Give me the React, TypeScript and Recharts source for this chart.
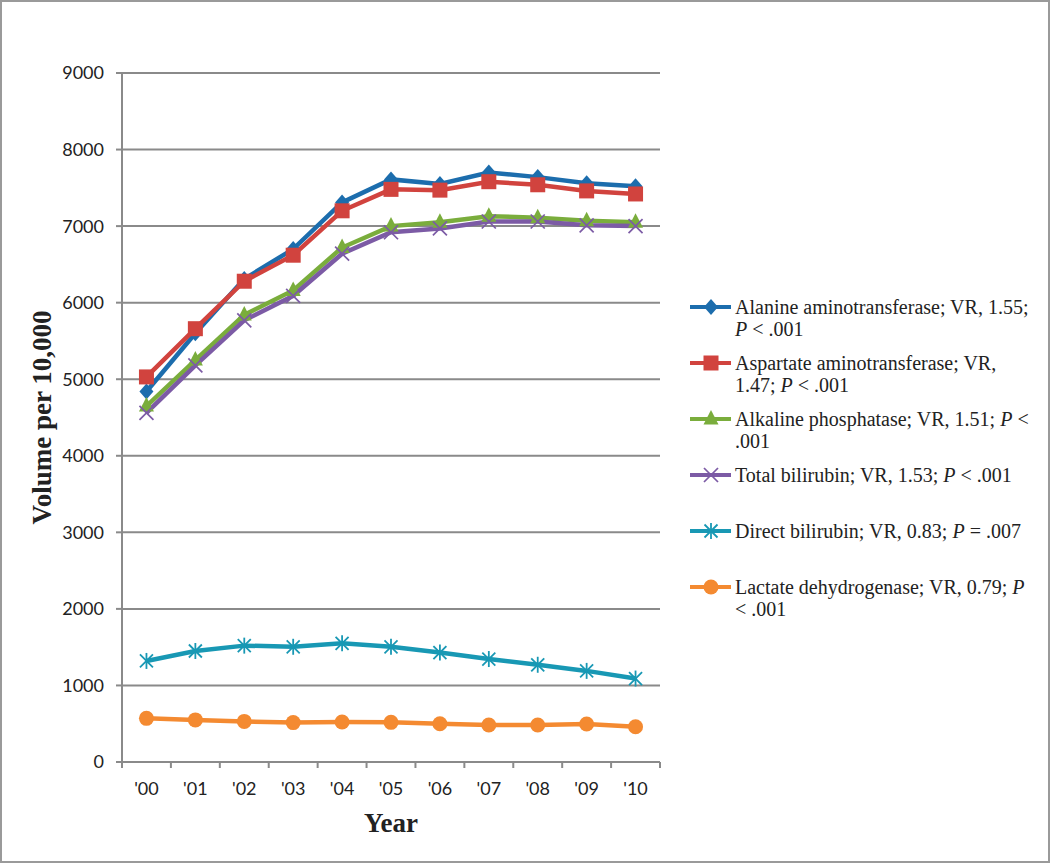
import React from "react";
import { LineChart, Line, XAxis, YAxis, CartesianGrid, Legend } from "recharts";

const years = ["'00", "'01", "'02", "'03", "'04", "'05", "'06", "'07", "'08", "'09", "'10"];
const yTicks = [0, 1000, 2000, 3000, 4000, 5000, 6000, 7000, 8000, 9000];

const alanine = [4840, 5600, 6310, 6700, 7310, 7610, 7550, 7700, 7640, 7560, 7520];
const aspartate = [5030, 5660, 6280, 6620, 7200, 7480, 7470, 7580, 7540, 7460, 7420];
const alkaline = [4650, 5250, 5840, 6160, 6720, 7000, 7050, 7130, 7110, 7070, 7050];
const totalBili = [4560, 5180, 5770, 6090, 6640, 6920, 6970, 7060, 7060, 7010, 7000];
const directBili = [1320, 1450, 1520, 1505, 1550, 1505, 1430, 1345, 1270, 1190, 1090];
const lactate = [570, 550, 530, 515, 522, 518, 500, 483, 483, 497, 460];

// label pieces: [text, italic?] per line
type Piece = [string, boolean];
const series: { key: string; color: string; shape: string; values: number[]; lines: Piece[][] }[] = [
  { key: "alt", color: "#1c6dad", shape: "diamond", values: alanine,
    lines: [[["Alanine aminotransferase; VR, 1.55;", false]], [["P", true], [" < .001", false]]] },
  { key: "ast", color: "#d1433e", shape: "square", values: aspartate,
    lines: [[["Aspartate aminotransferase; VR,", false]], [["1.47; ", false], ["P", true], [" < .001", false]]] },
  { key: "alp", color: "#7aad3c", shape: "triangle", values: alkaline,
    lines: [[["Alkaline phosphatase; VR, 1.51; ", false], ["P", true], [" <", false]], [[".001", false]]] },
  { key: "tbil", color: "#7c5ba5", shape: "x", values: totalBili,
    lines: [[["Total bilirubin; VR, 1.53; ", false], ["P", true], [" < .001", false]]] },
  { key: "dbil", color: "#1898b4", shape: "star", values: directBili,
    lines: [[["Direct bilirubin; VR, 0.83; ", false], ["P", true], [" = .007", false]]] },
  { key: "ldh", color: "#f48a31", shape: "circle", values: lactate,
    lines: [[["Lactate dehydrogenase; VR, 0.79; ", false], ["P", true]], [["< .001", false]]] },
];

const data = years.map((year, i) => {
  const row: Record<string, string | number> = { year };
  series.forEach((s) => { row[s.key] = s.values[i]; });
  return row;
});

const W = 1050;
const H = 863;
const legendW = 355;
const plotRight = 390; // space right of the plot area
// recharts adds the legend width to the right offset, so take it off the margin
const margin = { top: 73, right: plotRight - legendW, bottom: 0, left: 0 };
const yAxisW = 122;
const plotW = W - plotRight - yAxisW;
const step = plotW / years.length;
const gray = "#8a8a8a";

function Marker({ shape, cx, cy, color }: { shape: string; cx: number; cy: number; color: string }) {
  if (cx == null || cy == null) return null;
  switch (shape) {
    case "diamond":
      return <polygon points={`${cx},${cy - 8} ${cx + 7},${cy} ${cx},${cy + 8} ${cx - 7},${cy}`} fill={color} />;
    case "square":
      return <rect x={cx - 7.5} y={cy - 7.5} width={15} height={15} fill={color} />;
    case "triangle":
      return <polygon points={`${cx},${cy - 9} ${cx + 7.5},${cy + 5.5} ${cx - 7.5},${cy + 5.5}`} fill={color} />;
    case "x":
      return (
        <g stroke={color} strokeWidth={1.7}>
          <line x1={cx - 7} y1={cy - 7} x2={cx + 7} y2={cy + 7} />
          <line x1={cx - 7} y1={cy + 7} x2={cx + 7} y2={cy - 7} />
        </g>
      );
    case "star":
      return (
        <g stroke={color} strokeWidth={1.8}>
          <line x1={cx - 6.5} y1={cy - 6.5} x2={cx + 6.5} y2={cy + 6.5} />
          <line x1={cx - 6.5} y1={cy + 6.5} x2={cx + 6.5} y2={cy - 6.5} />
          <line x1={cx} y1={cy - 8} x2={cx} y2={cy + 8} />
        </g>
      );
    default:
      return <circle cx={cx} cy={cy} r={7.5} fill={color} />;
  }
}

const XTick = ({ x, y, payload, index }: any) => (
  <g>
    <line x1={x - step / 2} y1={y - 6} x2={x - step / 2} y2={y} stroke={gray} strokeWidth={2} />
    {index === years.length - 1 && (
      <line x1={x + step / 2} y1={y - 6} x2={x + step / 2} y2={y} stroke={gray} strokeWidth={2} />
    )}
    <text x={x} y={y + 27} textAnchor="middle" fontFamily="Lato, 'Open Sans', sans-serif" fontSize={18} fill="#222">
      {payload.value}
    </text>
  </g>
);

const LegendContent = () => (
  <div style={{ fontFamily: "'Liberation Serif', 'Times New Roman', serif", fontSize: 20, color: "#222" }}>
    {series.map((s) => (
      <div key={s.key} style={{ height: 56, position: "relative", paddingLeft: 45 }}>
        <svg width={44} height={22} style={{ position: "absolute", left: 0, top: 0 }}>
          <line x1={0} y1={11} x2={41} y2={11} stroke={s.color} strokeWidth={4} />
          <Marker shape={s.shape} cx={21} cy={11} color={s.color} />
        </svg>
        {s.lines.map((ln, i) => (
          <div key={i} style={{ lineHeight: "22px", whiteSpace: "nowrap" }}>
            {ln.map(([t, it], j) => (
              <span key={j} style={{ fontStyle: it ? "italic" : "normal", whiteSpace: "pre" }}>{t}</span>
            ))}
          </div>
        ))}
      </div>
    ))}
  </div>
);

export default function App() {
  return (
    <div style={{ position: "absolute", left: 0, top: 0, width: W, height: H, background: "#fff" }}>
      <LineChart width={W} height={H} data={data} margin={margin}>
        <CartesianGrid horizontal vertical={false} stroke={gray} strokeWidth={2} />
        <XAxis
          dataKey="year"
          height={H - 762}
          padding={{ left: step / 2, right: step / 2 }}
          axisLine={{ stroke: gray, strokeWidth: 2 }}
          tickLine={false}
          tickSize={6}
          tickMargin={0}
          tick={<XTick />}
          interval={0}
          label={{
            content: ({ viewBox }: any) => (
              <text
                x={viewBox.x + viewBox.width / 2}
                y={viewBox.y + 70}
                textAnchor="middle"
                fontFamily="'Liberation Serif', 'Times New Roman', serif"
                fontWeight="bold"
                fontSize={27}
                fill="#222"
              >
                Year
              </text>
            ),
          }}
        />
        <YAxis
          width={yAxisW}
          domain={[0, 9000]}
          ticks={yTicks}
          interval={0}
          axisLine={{ stroke: gray, strokeWidth: 2 }}
          tickLine={{ stroke: gray, strokeWidth: 2 }}
          tickSize={6}
          tickMargin={12}
          tick={{ fontFamily: "Lato, 'Open Sans', sans-serif", fontSize: 18, fill: "#222" }}
          label={{
            content: ({ viewBox }: any) => {
              const cx = viewBox.x + 42;
              const cy = viewBox.y + viewBox.height / 2;
              return (
                <text
                  x={cx}
                  y={cy}
                  transform={`rotate(-90 ${cx} ${cy})`}
                  textAnchor="middle"
                  dominantBaseline="central"
                  fontFamily="'Liberation Serif', 'Times New Roman', serif"
                  fontWeight="bold"
                  fontSize={27}
                  fill="#222"
                >
                  Volume per 10,000
                </text>
              );
            },
          }}
        />
        <Legend
          layout="vertical"
          align="right"
          verticalAlign="top"
          width={legendW}
          wrapperStyle={{ left: 690, top: 296, width: legendW }}
          content={<LegendContent />}
        />
        {series.map((s) => (
          <Line
            key={s.key}
            dataKey={s.key}
            type="linear"
            stroke={s.color}
            strokeWidth={4.5}
            isAnimationActive={false}
            dot={(p: any) => <Marker key={`${s.key}-${p.index}`} shape={s.shape} cx={p.cx} cy={p.cy} color={s.color} />}
            activeDot={false}
          />
        ))}
      </LineChart>
      <div
        style={{
          position: "absolute", left: 0, top: 0, width: W, height: H,
          boxSizing: "border-box", border: "2px solid #9a9a9a", pointerEvents: "none",
        }}
      />
    </div>
  );
}
